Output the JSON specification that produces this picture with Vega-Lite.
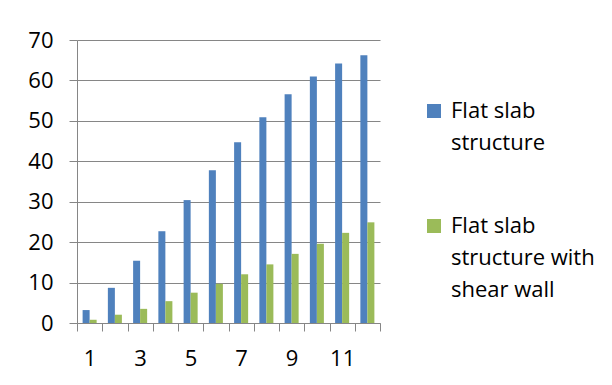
{
  "$schema": "https://vega.github.io/schema/vega-lite/v6.json",
  "width": 303,
  "height": 283,
  "autosize": {"type": "none"},
  "padding": {"left": 77, "top": 40, "right": 232, "bottom": 62},
  "background": "white",
  "data": {
    "values": [
      {"n": 1, "series": "Flat slab structure", "v": 3.2},
      {"n": 2, "series": "Flat slab structure", "v": 8.7},
      {"n": 3, "series": "Flat slab structure", "v": 15.4},
      {"n": 4, "series": "Flat slab structure", "v": 22.7},
      {"n": 5, "series": "Flat slab structure", "v": 30.4},
      {"n": 6, "series": "Flat slab structure", "v": 37.8},
      {"n": 7, "series": "Flat slab structure", "v": 44.7},
      {"n": 8, "series": "Flat slab structure", "v": 50.9},
      {"n": 9, "series": "Flat slab structure", "v": 56.6},
      {"n": 10, "series": "Flat slab structure", "v": 61.0},
      {"n": 11, "series": "Flat slab structure", "v": 64.2},
      {"n": 12, "series": "Flat slab structure", "v": 66.2},
      {"n": 1, "series": "Flat slab structure with shear wall", "v": 0.8},
      {"n": 2, "series": "Flat slab structure with shear wall", "v": 2.05},
      {"n": 3, "series": "Flat slab structure with shear wall", "v": 3.5},
      {"n": 4, "series": "Flat slab structure with shear wall", "v": 5.4},
      {"n": 5, "series": "Flat slab structure with shear wall", "v": 7.5},
      {"n": 6, "series": "Flat slab structure with shear wall", "v": 9.7},
      {"n": 7, "series": "Flat slab structure with shear wall", "v": 12.05},
      {"n": 8, "series": "Flat slab structure with shear wall", "v": 14.5},
      {"n": 9, "series": "Flat slab structure with shear wall", "v": 17.1},
      {"n": 10, "series": "Flat slab structure with shear wall", "v": 19.6},
      {"n": 11, "series": "Flat slab structure with shear wall", "v": 22.3},
      {"n": 12, "series": "Flat slab structure with shear wall", "v": 24.9}
    ]
  },
  "mark": {"type": "bar"},
  "encoding": {
    "x": {
      "field": "n",
      "type": "ordinal",
      "scale": {"paddingInner": 0, "paddingOuter": 0},
      "axis": {
        "title": null,
        "labelAngle": 0,
        "tickBand": "extent",
        "labelExpr": "datum.value % 2 == 1 ? datum.label : ''",
        "domainColor": "#868686",
        "tickColor": "#868686",
        "tickSize": 8,
        "labelPadding": 17,
        "labelBaseline": "top",
        "labelFont": "Open Sans",
        "labelFontSize": 22,
        "labelColor": "black",
        "grid": false
      }
    },
    "xOffset": {
      "field": "series",
      "type": "nominal",
      "scale": {"paddingInner": 0, "paddingOuter": 0.8}
    },
    "y": {
      "field": "v",
      "type": "quantitative",
      "scale": {"domain": [0, 70], "nice": false},
      "axis": {
        "title": null,
        "values": [0, 10, 20, 30, 40, 50, 60, 70],
        "grid": true,
        "gridColor": "#868686",
        "domainColor": "#868686",
        "tickColor": "#868686",
        "tickSize": 8,
        "labelPadding": 16,
        "labelFont": "Open Sans",
        "labelFontSize": 22,
        "labelColor": "black"
      }
    },
    "color": {
      "field": "series",
      "type": "nominal",
      "scale": {"range": ["#4F81BD", "#9BBB59"]},
      "legend": {
        "title": null,
        "orient": "none",
        "legendX": 346,
        "legendY": 60,
        "padding": 0,
        "symbolType": "square",
        "symbolSize": 196,
        "symbolStrokeWidth": 0,
        "labelFont": "Open Sans",
        "labelFontSize": 22,
        "labelColor": "black",
        "labelOffset": 6,
        "labelLimit": 300,
        "rowPadding": 61,
        "labelExpr": "datum.label == 'Flat slab structure' ? ['Flat slab', 'structure'] : ['Flat slab', 'structure with', 'shear wall']"
      }
    }
  },
  "config": {
    "view": {"stroke": null},
    "style": {"guide-label": {"lineHeight": 32}}
  }
}
